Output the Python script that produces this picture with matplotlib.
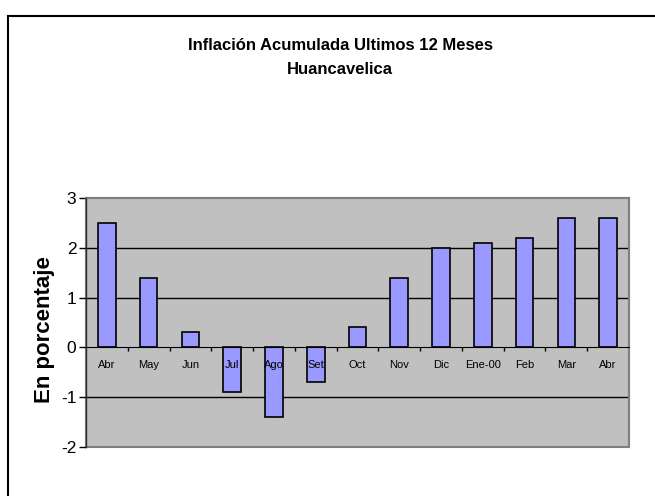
import matplotlib
matplotlib.use("Agg")
import matplotlib.pyplot as plt
from matplotlib.patches import Rectangle
import numpy as np

plt.rcParams['font.family'] = ['Liberation Sans', 'DejaVu Sans']

meses = ['Abr', 'May', 'Jun', 'Jul', 'Ago', 'Set', 'Oct', 'Nov', 'Dic',
         'Ene-00', 'Feb', 'Mar', 'Abr']
inflacion = [2.5, 1.4, 0.3, -0.9, -1.4, -0.7, 0.4, 1.4, 2.0, 2.1, 2.2, 2.6, 2.6]
yticks = [-2, -1, 0, 1, 2, 3]

W, H = 655, 496
fig = plt.figure(figsize=(W / 100, H / 100), dpi=100)
fig.patch.set_facecolor('white')

# outer chart border (only top/left visible in the reference)
fig.patches.append(Rectangle((8 / W, -0.05), 1, 1.05 - 16 / H, transform=fig.transFigure,
                             fill=False, edgecolor='black', linewidth=1.5))

ax = fig.add_axes([86 / W, 1 - 447 / H, 543 / W, 249 / H])
ax.set_facecolor('#C0C0C0')

x = np.arange(len(meses))
ax.bar(x, inflacion, width=0.42, color='#9999FF', edgecolor='black',
       linewidth=1.2, zorder=3)

ax.set_xlim(-0.5, len(meses) - 0.5)
ax.set_ylim(-2, 3)
ax.set_yticks(yticks)
ax.set_yticklabels([str(v) for v in yticks], fontsize=12.5)
ax.tick_params(axis='y', direction='out', length=5, width=1, pad=2)

for v in [-1, 1, 2]:
    ax.axhline(v, color='black', linewidth=1, zorder=1)

# category axis sits at zero
for s in ['top', 'right']:
    ax.spines[s].set_color('#808080')
    ax.spines[s].set_linewidth(1.5)
ax.spines['left'].set_color('#303030')
ax.spines['left'].set_linewidth(1)
ax.spines['left'].set_zorder(5)
ax.spines['bottom'].set_position(('data', 0))
ax.spines['bottom'].set_color('black')
ax.spines['bottom'].set_zorder(4)
ax.add_patch(Rectangle((0, 0), 1, 1, transform=ax.transAxes, fill=False,
                       edgecolor='#808080', linewidth=1.5, zorder=0.5, clip_on=False))

ax.set_xticks(x[:-1] + 0.5)
ax.set_xticklabels([])
ax.tick_params(axis='x', direction='out', length=3, width=1)

for i, m in enumerate(meses):
    ax.annotate(m, xy=(i, 0), xytext=(0, -18), textcoords='offset pixels',
                ha='center', va='center', fontsize=8, zorder=6)

fig.text(45 / W, 1 - 330 / H, 'En porcentaje', rotation=90, ha='center',
         va='center', fontsize=16, fontweight='bold')

fig.text(340 / W, 1 - 46 / H, 'Inflación Acumulada Ultimos 12 Meses',
         ha='center', va='center', fontsize=12, fontweight='bold')
fig.text(340 / W, 1 - 69 / H, 'Huancavelica',
         ha='center', va='center', fontsize=12, fontweight='bold')

fig.savefig('out.png', dpi=100)
